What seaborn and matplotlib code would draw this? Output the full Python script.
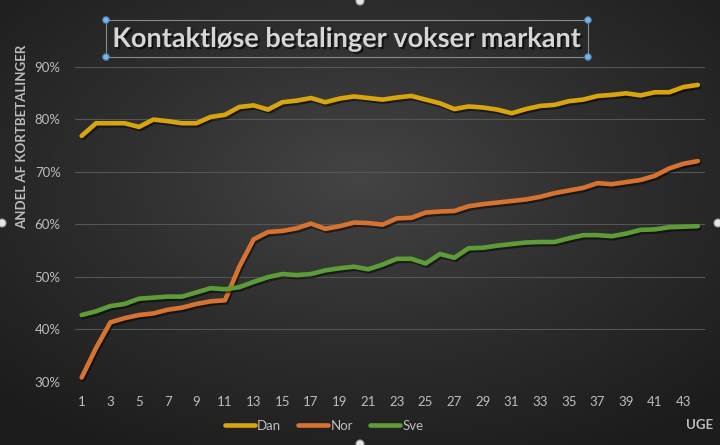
import numpy as np
import pandas as pd
import seaborn as sns
import matplotlib.pyplot as plt
import matplotlib.patheffects as pe
from matplotlib.patches import Rectangle, Circle

weeks = list(range(1, 45))
dan = [76.8, 79.2, 79.2, 79.2, 78.5, 79.9, 79.6, 79.2, 79.2, 80.4, 80.8, 82.3,
       82.6, 81.8, 83.2, 83.5, 84.0, 83.2, 83.9, 84.3, 84.0, 83.7, 84.1, 84.4,
       83.7, 83.0, 81.9, 82.4, 82.2, 81.8, 81.1, 81.9, 82.5, 82.7, 83.4, 83.7,
       84.4, 84.6, 84.9, 84.5, 85.1, 85.1, 86.1, 86.5]
nor = [30.8, 36.4, 41.3, 42.1, 42.7, 43.0, 43.7, 44.1, 44.8, 45.3, 45.5, 51.9,
       57.1, 58.5, 58.7, 59.2, 60.1, 59.1, 59.6, 60.3, 60.2, 59.9, 61.1, 61.2,
       62.2, 62.4, 62.5, 63.4, 63.8, 64.1, 64.4, 64.7, 65.2, 65.9, 66.4, 66.9,
       67.8, 67.6, 68.0, 68.4, 69.2, 70.6, 71.5, 72.0]
sve = [42.7, 43.4, 44.4, 44.8, 45.8, 46.0, 46.2, 46.2, 47.0, 47.8, 47.6, 48.0,
       49.0, 49.9, 50.5, 50.3, 50.5, 51.2, 51.6, 51.9, 51.4, 52.3, 53.4, 53.4,
       52.5, 54.3, 53.6, 55.4, 55.5, 55.9, 56.2, 56.5, 56.6, 56.6, 57.3, 57.9,
       57.9, 57.7, 58.2, 58.9, 59.0, 59.4, 59.5, 59.6]
series = ["Dan", "Nor", "Sve"]
colors = ["#d8a50f", "#d67330", "#5e9c38"]
title = "Kontaktløse betalinger vokser markant"

df = pd.DataFrame({"uge": weeks, "Dan": dan, "Nor": nor, "Sve": sve})
long = df.melt(id_vars="uge", var_name="land", value_name="andel")
long["andel"] = long["andel"] / 100

sns.set_style("dark")
plt.rcParams["font.family"] = ["Lato", "DejaVu Sans"]

fig = plt.figure(figsize=(7.2, 4.45), dpi=100)

# radial background like the Excel chart style
bg = fig.add_axes([0, 0, 1, 1], zorder=-10)
yy, xx = np.mgrid[-1:1:300j, -1:1:480j]
r = np.sqrt(xx ** 2 + (yy + 0.2) ** 2) / np.sqrt(2)
bg.imshow(r, cmap=sns.blend_palette(["#444444", "#2e2e2e", "#1c1c1c"], as_cmap=True),
          extent=[0, 1, 0, 1], aspect="auto", vmin=0, vmax=1)
bg.axis("off")

ax = fig.add_axes([0.1035, 0.1422, 0.8757, 0.7083])
ax.set_facecolor("none")
sns.lineplot(data=long, x="uge", y="andel", hue="land", palette=colors,
             linewidth=3.3, ax=ax, legend=False, zorder=3)
for ln in ax.lines:
    ln.set_solid_capstyle("round")
    ln.set_path_effects([pe.SimpleLineShadow(offset=(1, -1.5), shadow_color="black", alpha=0.5),
                         pe.Normal()])

ax.set_xlim(0.5, 44.5)
ax.set_ylim(0.3, 0.9)
ax.set_xticks(weeks[::2])
ax.set_yticks(np.arange(0.3, 0.91, 0.1))
ax.set_yticklabels([f"{int(round(v * 100))}%" for v in np.arange(0.3, 0.91, 0.1)])
ax.tick_params(colors="#bdbdbd", labelsize=9.5, length=0, pad=10)
ax.grid(axis="y", color="#555555", linewidth=0.8)
ax.grid(axis="x", visible=False)
for s in ax.spines.values():
    s.set_visible(False)
ax.set_xlabel("")
ax.set_ylabel("")

fig.text(22 / 720, 1 - 137 / 445, "ANDEL AF KORTBETALINGER", rotation=90, ha="center",
         va="center", color="#bdbdbd", fontsize=9.5, fontweight="bold")
fig.text(700 / 720, 1 - 425 / 445, "UGE", ha="center", va="center", color="#bdbdbd",
         fontsize=9.5, fontweight="bold")

# legend
handles = [plt.Line2D([], [], color=c, lw=3.3) for c in colors]
fig.legend(handles, series, loc="center", bbox_to_anchor=(324 / 720, 1 - 426 / 445), ncol=3,
           frameon=False, handlelength=2.3, handletextpad=0.15, columnspacing=1.3,
           labelcolor="#bdbdbd", fontsize=9.5)

# title in its selected text box
fig.text(347 / 720, 1 - 39 / 445, title, ha="center", va="center", color="#d6d6d6",
         fontsize=19.5, fontweight="bold",
         path_effects=[pe.withSimplePatchShadow(offset=(1.5, -1.5), shadow_rgbFace="black", alpha=0.6)])
fig.add_artist(Rectangle((106 / 720, 1 - 57 / 445), 482 / 720, 37 / 445, transform=fig.transFigure,
                         fill=False, edgecolor="#8a8a8a", linewidth=0.8))
for hx, hy in [(106, 20), (588, 20), (106, 57), (588, 57)]:
    fig.add_artist(Circle((hx, 445 - hy), 3.2, transform=None, facecolor="#7fb2e0",
                          edgecolor="#4a86c5", linewidth=0.8))
for hx, hy in [(360, 1), (2, 223), (718, 223), (360, 444)]:
    fig.add_artist(Circle((hx, 445 - hy), 4, transform=None, facecolor="#e6e6e6",
                          edgecolor="#9a9a9a", linewidth=0.8))

fig.savefig("out.png", dpi=100)
